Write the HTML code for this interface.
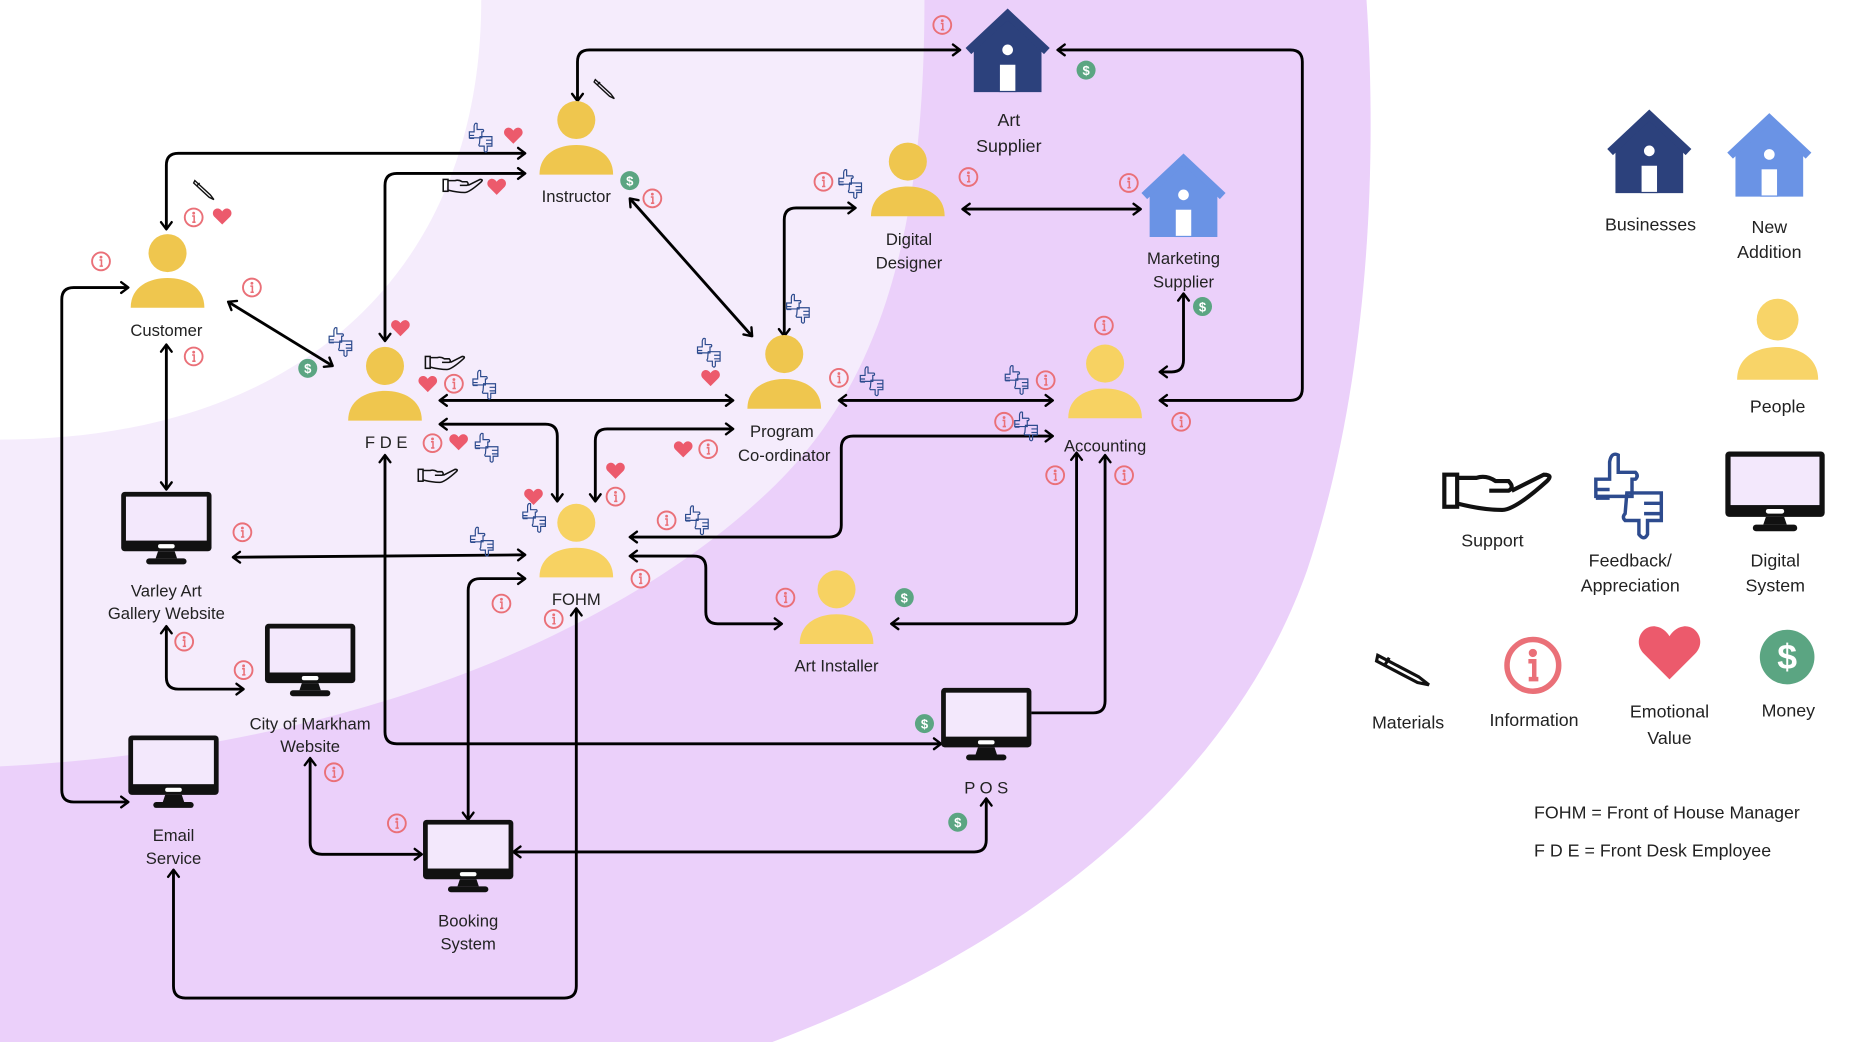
<!DOCTYPE html>
<html><head><meta charset="utf-8"><style>
html,body{margin:0;padding:0;background:#fff;}
svg{display:block;}
text{font-family:"Liberation Sans",sans-serif;fill:#222;text-anchor:middle;}
.l{font-size:14px;}
.g{font-size:15px;}
</style></head><body>
<svg width="1862" height="1042" viewBox="0 0 1567 877" preserveAspectRatio="none" xmlns="http://www.w3.org/2000/svg">
<defs>
<marker id="a" viewBox="-8 -6 10 12" refX="0" refY="0" markerWidth="10" markerHeight="12" markerUnits="userSpaceOnUse" orient="auto-start-reverse">
<path d="M-6,-4.5 L0,0 L-6,4.5" fill="none" stroke="#000" stroke-width="2" stroke-linecap="round" stroke-linejoin="round"/>
</marker>
<g id="person"><circle cx="0" cy="0" r="16"/><path d="M-31,46 C-31,28 -15,21 0,21 C15,21 31,28 31,46 Z"/></g>
<g id="house">
<polygon points="-28,31 0,9 28,31 28,69 -28,69"/>
<polyline points="-33,35 0,4 33,35" fill="none" stroke-width="7"/>
<circle cx="0" cy="34" r="5" fill="#fff"/>
<rect x="-7" y="46" width="14" height="23" fill="#fff"/>
</g>
<g id="mon">
<rect x="0" y="0" width="76" height="50" rx="3" fill="#111"/>
<rect x="4" y="4" width="68" height="37" fill="#f3e8fc"/>
<rect x="31" y="44" width="14" height="3.5" rx="1.7" fill="#fff"/>
<polygon points="31,50 45,50 47,56 29,56" fill="#111"/>
<rect x="21" y="56" width="34" height="5" rx="2.5" fill="#111"/>
</g>
<g id="info"><circle cx="0" cy="0" r="7.5" fill="none" stroke="#ea7078" stroke-width="1.6"/><circle cx="0" cy="-3.6" r="1.2" fill="#ea7078"/><path d="M-1.3,-1.2 H0.4 V4 H1.6 M-1.2,4 H1.6" fill="none" stroke="#ea7078" stroke-width="1.3"/></g>
<path id="heart" d="M0,6 L-6.5,-0.5 C-9.5,-3.5 -7,-8 -3.5,-7.5 C-1.8,-7.3 -0.6,-6 0,-5 C0.6,-6 1.8,-7.3 3.5,-7.5 C7,-8 9.5,-3.5 6.5,-0.5 Z" fill="#ec5a6c"/>
<g id="money"><circle cx="0" cy="0" r="8" fill="#5ba582"/><text x="0" y="4" style="font-size:11px;font-weight:bold;fill:#fff">$</text></g>
<g id="fb" fill="none" stroke="#2d4b8e" stroke-width="1">
<path d="M-10,-3 h4 v-5 q0.5,-3 2.5,-2 v5 h5 q1,1 0,2 h-1 v5 h-10.5 z M-10,0 h4 M-10,2.5 h4"/>
<path d="M-1,1 h10 v8 h-4 v4 q-1,2 -2.5,0 v-4 h-4 q-1,-1 0,-2 z M4,4 h5 M4,7 h5"/>
</g>
<g id="hand" fill="none" stroke="#111" stroke-width="1.3">
<rect x="-15" y="-5" width="4" height="10"/>
<path d="M-11,-4 h6 q3,-1 6,1 h4 q2,2 0,3 h-6 M-11,4 q8,2 14,2 q4,0 14,-9 q2,-2 -1,-2 l-10,5"/>
</g>
<g id="pencil" fill="none" stroke="#111" stroke-width="1.2"><path d="M-8,-8 L5,4 L8,8 L4,6 L-9,-6 Z M-6,-4 L-4,-6"/></g>
</defs>

<rect x="0" y="0" width="1567" height="877" fill="#fff"/>
<path d="M0,0 H1150 C1160,150 1150,330 1100,480 C1040,650 880,790 650,877 H0 Z" fill="#ebd0fa"/>
<path d="M0,0 H778 C778,200 740,330 640,420 C520,530 300,630 0,645 Z" fill="#f5ecfc"/>
<path d="M0,0 H405 C405,230 250,370 0,370 Z" fill="#fff"/>

<g fill="none" stroke="#000" stroke-width="2.4" marker-start="url(#a)" marker-end="url(#a)">
<path d="M486,85 V52 Q486,42 496,42 H808"/>
<path d="M890,42 H1086 Q1096,42 1096,52 V327 Q1096,337 1086,337 H976"/>
<path d="M140,193 V139 Q140,129 150,129 H442"/>
<path d="M324,287 V156 Q324,146 334,146 H442"/>
<path d="M192,254 L280,308"/>
<path d="M530,167 L633,283"/>
<path d="M660,283 V185 Q660,175 670,175 H720"/>
<path d="M810,176 H960"/>
<path d="M996,247 V303 Q996,313 986,313 H976"/>
<path d="M370,337 H617"/>
<path d="M706,337 H886"/>
<path d="M370,357 H459 Q469,357 469,367 V422"/>
<path d="M617,361 H511 Q501,361 501,371 V422"/>
<path d="M886,367 H718 Q708,367 708,377 V442 Q708,452 698,452 H530"/>
<path d="M140,290 V412"/>
<path d="M196,469 L442,467"/>
<path d="M530,468 H584 Q594,468 594,478 V515 Q594,525 604,525 H658"/>
<path d="M906,381 V515 Q906,525 896,525 H750"/>
<path d="M324,383 V616 Q324,626 334,626 H792"/>
<path d="M442,487 H404 Q394,487 394,497 V690"/>
<path d="M140,527 V570 Q140,580 150,580 H205"/>
<path d="M108,242 H62 Q52,242 52,252 V665 Q52,675 62,675 H108"/>
<path d="M261,638 V709 Q261,719 271,719 H355"/>
<path d="M432,717 H820 Q830,717 830,707 V672"/>
<path d="M146,732 V830 Q146,840 156,840 H475 Q485,840 485,830 V512"/>
</g>
<path d="M868,600 H920 Q930,600 930,590 V383" fill="none" stroke="#000" stroke-width="2.4" marker-end="url(#a)"/>

<g fill="#efc64e">
<use href="#person" x="485" y="101"/>
<use href="#person" x="141" y="213"/>
<use href="#person" x="324" y="308"/>
<use href="#person" x="660" y="298"/>
<use href="#person" x="764" y="136"/>
</g>
<g fill="#f7d262">
<use href="#person" x="930" y="306"/>
<use href="#person" x="485" y="440"/>
<use href="#person" x="704" y="496"/>
</g>
<g fill="#f8d468"><g transform="translate(1496,269) scale(1.1)"><use href="#person"/></g></g>

<g fill="#2c417c" stroke="#2c417c"><use href="#house" x="848" y="8"/><use href="#house" x="1388" y="93"/></g>
<g fill="#6a93e5" stroke="#6a93e5"><use href="#house" x="996" y="130"/><use href="#house" x="1489" y="96"/></g>

<use href="#mon" x="102" y="414"/>
<use href="#mon" x="223" y="525"/>
<use href="#mon" x="108" y="619"/>
<use href="#mon" x="356" y="690"/>
<use href="#mon" x="792" y="579"/>
<g transform="translate(1452,380) scale(1.1)"><use href="#mon"/></g>

<g>
<use href="#info" x="793" y="21"/><use href="#info" x="549" y="167"/><use href="#info" x="163" y="183"/>
<use href="#info" x="85" y="220"/><use href="#info" x="212" y="242"/><use href="#info" x="163" y="300"/>
<use href="#info" x="382" y="323"/><use href="#info" x="364" y="373"/><use href="#info" x="596" y="378"/>
<use href="#info" x="706" y="318"/><use href="#info" x="880" y="320"/><use href="#info" x="845" y="355"/>
<use href="#info" x="994" y="355"/><use href="#info" x="888" y="400"/><use href="#info" x="946" y="400"/>
<use href="#info" x="929" y="274"/><use href="#info" x="950" y="154"/><use href="#info" x="815" y="149"/>
<use href="#info" x="693" y="153"/><use href="#info" x="518" y="418"/><use href="#info" x="561" y="438"/>
<use href="#info" x="539" y="487"/><use href="#info" x="422" y="508"/><use href="#info" x="466" y="521"/>
<use href="#info" x="661" y="503"/><use href="#info" x="204" y="448"/><use href="#info" x="155" y="540"/>
<use href="#info" x="205" y="564"/><use href="#info" x="281" y="650"/><use href="#info" x="334" y="693"/>
</g>
<g>
<use href="#heart" x="432" y="115"/><use href="#heart" x="418" y="158"/><use href="#heart" x="187" y="183"/>
<use href="#heart" x="337" y="277"/><use href="#heart" x="360" y="324"/><use href="#heart" x="386" y="373"/>
<use href="#heart" x="598" y="319"/><use href="#heart" x="575" y="379"/><use href="#heart" x="518" y="397"/>
<use href="#heart" x="449" y="419"/>
</g>
<g>
<use href="#money" x="914" y="59"/><use href="#money" x="530" y="152"/><use href="#money" x="259" y="310"/>
<use href="#money" x="1012" y="258"/><use href="#money" x="761" y="503"/><use href="#money" x="778" y="609"/>
<use href="#money" x="806" y="692"/>
</g>
<g>
<use href="#fb" x="405" y="114"/><use href="#fb" x="716" y="153"/><use href="#fb" x="287" y="286"/>
<use href="#fb" x="408" y="322"/><use href="#fb" x="410" y="375"/><use href="#fb" x="597" y="295"/>
<use href="#fb" x="672" y="258"/><use href="#fb" x="734" y="319"/><use href="#fb" x="856" y="318"/>
<use href="#fb" x="864" y="357"/><use href="#fb" x="450" y="434"/><use href="#fb" x="587" y="436"/>
<use href="#fb" x="406" y="454"/>
</g>
<g><use href="#hand" x="388" y="156"/><use href="#hand" x="373" y="305"/><use href="#hand" x="367" y="400"/></g>
<g><use href="#pencil" x="509" y="75"/><use href="#pencil" x="172" y="160"/></g>

<g transform="translate(1256,413) scale(2.7)"><use href="#hand"/></g>
<g transform="translate(1372,412) scale(2.9)"><use href="#fb"/></g>
<g transform="translate(1181,564) scale(2.2) rotate(-15)"><use href="#pencil"/></g>
<g transform="translate(1290,560) scale(2.9)"><use href="#info"/></g>
<g transform="translate(1405,552) scale(3.3)"><use href="#heart"/></g>
<circle cx="1504" cy="553" r="23" fill="#5ba582"/>
<text x="1504" y="563" style="font-size:30px;font-weight:bold;fill:#fff">$</text>

<g class="l">
<text x="485" y="170">Instructor</text>
<text x="140" y="283">Customer</text>
<text x="325" y="377">F D E</text>
<text x="658" y="368">Program</text>
<text x="660" y="388">Co-ordinator</text>
<text x="765" y="206">Digital</text>
<text x="765" y="226">Designer</text>
<text x="930" y="380">Accounting</text>
<text x="485" y="509">FOHM</text>
<text x="704" y="565">Art Installer</text>
<text x="849" y="106" style="font-size:15px">Art</text>
<text x="849" y="128" style="font-size:15px">Supplier</text>
<text x="996" y="222">Marketing</text>
<text x="996" y="242">Supplier</text>
<text x="140" y="502">Varley Art</text>
<text x="140" y="521">Gallery Website</text>
<text x="261" y="614">City of Markham</text>
<text x="261" y="633">Website</text>
<text x="146" y="708">Email</text>
<text x="146" y="727">Service</text>
<text x="394" y="780">Booking</text>
<text x="394" y="799">System</text>
<text x="830" y="668">P O S</text>
</g>
<g class="g">
<text x="1389" y="194">Businesses</text>
<text x="1489" y="196">New</text>
<text x="1489" y="217">Addition</text>
<text x="1496" y="347">People</text>
<text x="1256" y="460">Support</text>
<text x="1372" y="477">Feedback/</text>
<text x="1372" y="498">Appreciation</text>
<text x="1494" y="477">Digital</text>
<text x="1494" y="498">System</text>
<text x="1185" y="613">Materials</text>
<text x="1291" y="611">Information</text>
<text x="1405" y="604">Emotional</text>
<text x="1405" y="626">Value</text>
<text x="1505" y="603">Money</text>
<text x="1291" y="689" style="text-anchor:start">FOHM = Front of House Manager</text>
<text x="1291" y="721" style="text-anchor:start">F D E = Front Desk Employee</text>
</g>
</svg>
</body></html>
